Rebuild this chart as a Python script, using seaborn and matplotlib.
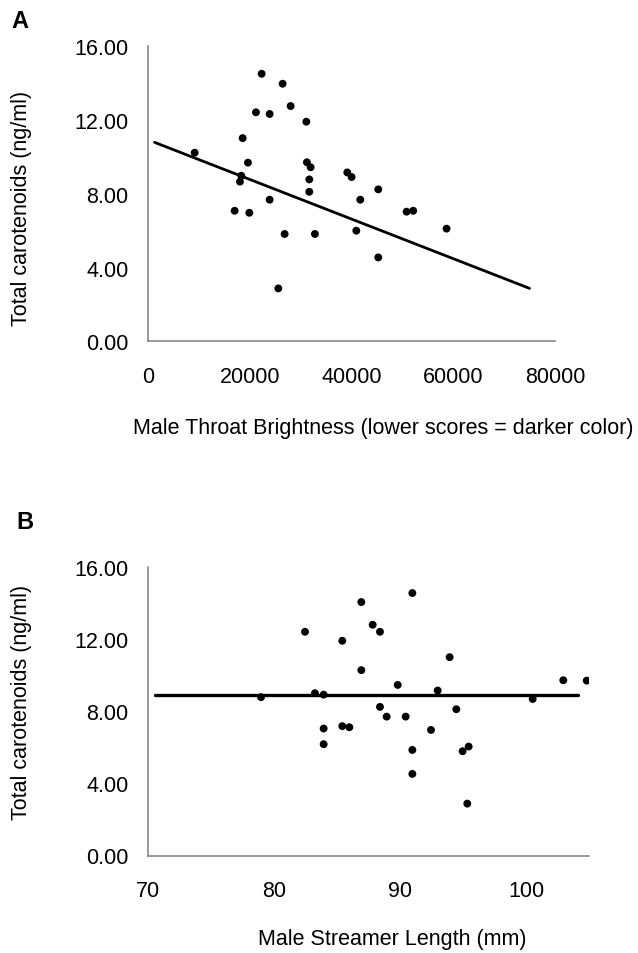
import matplotlib
matplotlib.use("Agg")
import matplotlib.pyplot as plt
import numpy as np
import pandas as pd
import seaborn as sns

# Panel A: throat brightness vs carotenoids
brightness = [9175, 22337, 26464, 28036, 21218, 23910, 31120, 18605, 19646, 31237,
              31964, 18343, 18074, 31704, 31704, 39171, 40020, 45260, 23910, 41729,
              17030, 19912, 50824, 52132, 58683, 40943, 26857, 32809, 45260, 25613]
carot_a = [10.23, 14.51, 13.97, 12.76, 12.42, 12.33, 11.91, 11.02, 9.69, 9.71,
           9.44, 8.98, 8.66, 8.78, 8.11, 9.16, 8.91, 8.24, 7.68, 7.68,
           7.08, 6.97, 7.03, 7.08, 6.11, 6.00, 5.82, 5.82, 4.55, 2.87]
fit_a_x = [1300, 75000]
fit_a_y = [10.79, 2.87]

# Panel B: streamer length vs carotenoids
streamer = [78.97, 82.46, 83.25, 83.94, 83.94, 83.94, 85.42, 85.42, 85.98, 86.93,
            86.93, 87.83, 88.41, 88.41, 88.94, 89.82, 90.45, 90.98, 90.98, 90.98,
            92.46, 92.99, 93.94, 94.47, 95.45, 94.97, 100.53, 102.96, 104.82, 95.34]
carot_b = [8.79, 12.42, 9.01, 8.93, 7.05, 6.18, 11.92, 7.18, 7.12, 14.07,
           10.29, 12.81, 12.42, 8.25, 7.71, 9.47, 7.71, 14.57, 5.86, 4.53,
           6.97, 9.16, 11.01, 8.12, 6.05, 5.79, 8.69, 9.73, 9.71, 2.88]
fit_b_x = [70.56, 104.15]
fit_b_y = [8.93, 8.93]

y_ticks = [0, 4, 8, 12, 16]
xa_ticks = [0, 20000, 40000, 60000, 80000]
xb_ticks = [70, 80, 90, 100]

sns.set_style("white")
plt.rcParams["font.family"] = ["Liberation Sans", "DejaVu Sans"]
plt.rcParams["text.color"] = "black"
plt.rcParams["axes.labelcolor"] = "black"
fs = 15.5
spine_c = "#808080"

fig = plt.figure(figsize=(6.38, 9.54), dpi=100)
axA = fig.add_axes([148 / 638, 1 - 342.3 / 954, 407 / 638, 295 / 954])
axB = fig.add_axes([148 / 638, 1 - 856.5 / 954, 441 / 638, 288.2 / 954])

dfa = pd.DataFrame({"x": brightness, "y": carot_a})
dfb = pd.DataFrame({"x": streamer, "y": carot_b})

sns.scatterplot(data=dfa, x="x", y="y", ax=axA, color="black", s=32, edgecolor="none")
sns.lineplot(x=fit_a_x, y=fit_a_y, ax=axA, color="black", lw=2)
sns.scatterplot(data=dfb, x="x", y="y", ax=axB, color="black", s=32, edgecolor="none")
sns.lineplot(x=fit_b_x, y=fit_b_y, ax=axB, color="black", lw=2.4)

axA.set_xlim(0, 80000)
axB.set_xlim(70, 105)
axA.set_xticks(xa_ticks)
axA.set_xticklabels([str(t) for t in xa_ticks])
axB.set_xticks(xb_ticks)
axB.set_xticklabels([str(t) for t in xb_ticks])

for ax in (axA, axB):
    ax.set_ylim(0, 16)
    ax.set_yticks(y_ticks)
    ax.set_yticklabels(["{:.2f}".format(t) for t in y_ticks])
    for side in ("top", "right"):
        ax.spines[side].set_visible(False)
    for side in ("left", "bottom"):
        ax.spines[side].set_color(spine_c)
        ax.spines[side].set_linewidth(1.1)
    ax.tick_params(axis="both", direction="out", length=5, width=1.1,
                   color=spine_c, labelsize=fs, labelcolor="black")
    ax.tick_params(axis="y", pad=9)
    ax.tick_params(axis="x", pad=13)
    ax.set_ylabel("Total carotenoids (ng/ml)", fontsize=fs)
    ax.yaxis.label.set_va("center")
    ax.xaxis.label.set_va("center")

axA.set_xlabel("Male Throat Brightness (lower scores = darker color)", fontsize=fs)
axA.xaxis.set_label_coords((383 - 148) / 407, -(428 - 342.3) / 295)
axA.yaxis.set_label_coords((21.7 - 148) / 407, (342.3 - 208) / 295)

axB.set_xlabel("Male Streamer Length (mm)", fontsize=fs)
axB.xaxis.set_label_coords((392 - 148) / 441, -(940 - 856.5) / 288.2)
axB.yaxis.set_label_coords((21.7 - 148) / 441, (856.5 - 702.5) / 288.2)

fig.text(11 / 638, 1 - 21 / 954, "A", fontsize=17, fontweight="bold", va="center")
fig.text(16 / 638, 1 - 523 / 954, "B", fontsize=17, fontweight="bold", va="center")

fig.savefig("out.png", dpi=100)
